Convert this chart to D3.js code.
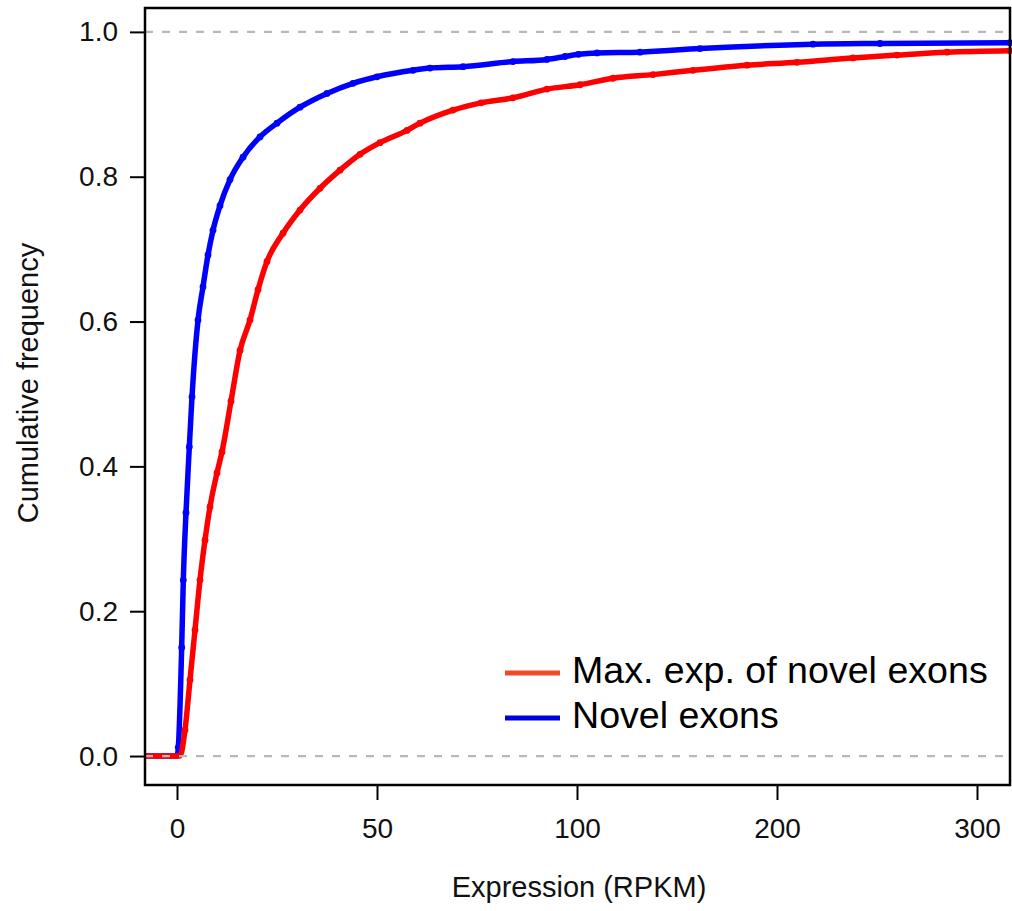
<!DOCTYPE html>
<html>
<head>
<meta charset="utf-8">
<script src="https://cdn.jsdelivr.net/npm/d3@7/dist/d3.min.js"></script>
<style>
  html, body { margin: 0; padding: 0; background: #fff; }
  svg { display: block; font-family: "Liberation Sans", Arial, sans-serif; }
</style>
</head>
<body>
<svg id="chart" width="1012" height="911"></svg>
<script>
// Cumulative distribution of expression (RPKM)
const novelX = [-8, 0, 0.33, 1.17, 1.58, 2.25, 3.08, 3.75, 5.25, 6.5, 7.75, 9, 10.75, 13.25, 16.5, 20.75, 25, 30.75, 37.5, 44, 50, 59, 63.25, 71.5, 84, 92.5, 97, 100.75, 110, 131.5, 161.5, 218, 251.5, 316.5];
const novelY = [0, 0, 0.012, 0.150, 0.243, 0.336, 0.427, 0.496, 0.602, 0.648, 0.692, 0.726, 0.760, 0.796, 0.827, 0.855, 0.874, 0.896, 0.915, 0.929, 0.938, 0.947, 0.950, 0.952, 0.959, 0.962, 0.966, 0.969, 0.971, 0.972, 0.977, 0.983, 0.984, 0.985];

const maxExpX = [-8, 0.75, 2, 3.25, 4.5, 5.75, 7, 8.25, 10, 11.25, 13.5, 15.75, 18.25, 20.25, 22.5, 26.5, 30.75, 35.75, 40.75, 45.75, 50.75, 57.5, 60.75, 69, 76, 84, 92.5, 101.5, 118, 138, 158, 185, 210, 238, 260, 285, 316.5];
const maxExpY = [0, 0, 0.036, 0.105, 0.174, 0.243, 0.298, 0.344, 0.391, 0.420, 0.490, 0.560, 0.602, 0.644, 0.683, 0.722, 0.754, 0.784, 0.809, 0.831, 0.847, 0.864, 0.874, 0.892, 0.902, 0.909, 0.921, 0.927, 0.936, 0.941, 0.947, 0.954, 0.958, 0.964, 0.968, 0.972, 0.974];

const xTicks = [0, 50, 100, 200, 300];
const yTicks = [0, 0.2, 0.4, 0.6, 0.8, 1.0];
const refLines = [0, 1];
const seriesNames = ["Max. exp. of novel exons", "Novel exons"];

const svg = d3.select("#chart");
const plotLeft = 145, plotRight = 1010, plotTop = 8, plotBottom = 785;

// piecewise-linear x axis: 0–100 stretched, 100–300 compressed
const x = d3.scaleLinear().domain([-8, 100, 316.5]).range([plotLeft, 577, plotRight]);
const y = d3.scaleLinear().domain([-0.04, 1.033]).range([plotBottom, plotTop]);

const line = d3.line().x(d => x(d[0])).y(d => y(d[1])).curve(d3.curveMonotoneX);

const novel = d3.zip(novelX, novelY);
const maxExp = d3.zip(maxExpX, maxExpY);

const plot = svg.append("g");
function drawSeries(data, color) {
  plot.append("path").datum(data)
    .attr("d", line)
    .attr("fill", "none")
    .attr("stroke", color)
    .attr("stroke-width", 5.5)
    .attr("stroke-linejoin", "round");
  plot.selectAll(null).data(data.slice(2)).enter().append("circle")
    .attr("cx", d => x(d[0])).attr("cy", d => y(d[1]))
    .attr("r", 3.4).attr("fill", color);
}
drawSeries(novel, "#0000ff");
drawSeries(maxExp, "#ff0000");

// dashed reference lines at 0 and 1
svg.selectAll(".ref").data(refLines).enter().append("line")
  .attr("x1", plotLeft).attr("x2", plotRight)
  .attr("y1", d => y(d)).attr("y2", d => y(d))
  .attr("stroke", "#b8b8b8").attr("stroke-width", 2.2)
  .attr("stroke-dasharray", "8,9");

// frame
svg.append("rect")
  .attr("x", plotLeft).attr("y", plotTop)
  .attr("width", plotRight - plotLeft).attr("height", plotBottom - plotTop)
  .attr("fill", "none").attr("stroke", "#000").attr("stroke-width", 2.5);

// axes
const xAxis = d3.axisBottom(x).tickValues(xTicks).tickSize(15).tickPadding(18).tickFormat(d3.format("d"));
const gx = svg.append("g").attr("transform", `translate(0,${plotBottom})`).call(xAxis);
gx.select(".domain").remove();
gx.selectAll(".tick line").attr("stroke", "#000").attr("stroke-width", 2);
gx.selectAll(".tick text").attr("font-size", 28).attr("fill", "#111")
  .attr("font-family", "Liberation Sans, Arial, sans-serif");

const yAxis = d3.axisLeft(y).tickValues(yTicks).tickSize(15).tickPadding(12).tickFormat(d3.format(".1f"));
const gy = svg.append("g").attr("transform", `translate(${plotLeft},0)`).call(yAxis);
gy.select(".domain").remove();
gy.selectAll(".tick line").attr("stroke", "#000").attr("stroke-width", 2);
gy.selectAll(".tick text").attr("font-size", 28).attr("fill", "#111")
  .attr("font-family", "Liberation Sans, Arial, sans-serif");

// axis titles
svg.append("text").attr("x", 579).attr("y", 897)
  .attr("text-anchor", "middle").attr("font-size", 29).attr("fill", "#111")
  .text("Expression (RPKM)");
svg.append("text").attr("transform", "translate(38,383) rotate(-90)")
  .attr("text-anchor", "middle").attr("font-size", 29).attr("fill", "#111")
  .text("Cumulative frequency");

// legend
const legendColors = ["#f04a28", "#0000dd"];
const lg = svg.append("g");
seriesNames.forEach((name, i) => {
  const yy = 673 + i * 45;
  lg.append("line").attr("x1", 505).attr("x2", 560).attr("y1", yy).attr("y2", yy)
    .attr("stroke", legendColors[i]).attr("stroke-width", 5);
  lg.append("text").attr("x", 572).attr("y", yy + 10)
    .attr("font-size", 37.6).attr("fill", "#000").text(name);
});
</script>
</body>
</html>
